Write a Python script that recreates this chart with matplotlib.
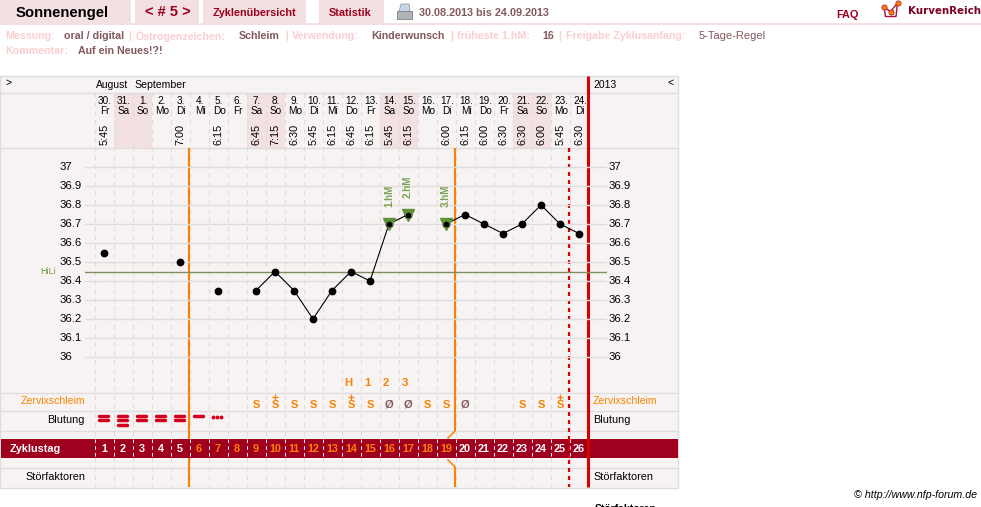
import matplotlib
matplotlib.use('Agg')
import matplotlib.pyplot as plt
from matplotlib.patches import Rectangle, Polygon

plt.rcParams['font.family'] = ['Liberation Sans', 'DejaVu Sans']

# data
dates = ['30.', '31.', '1.', '2.', '3.', '4.', '5.', '6.', '7.', '8.', '9.', '10.', '11.',
         '12.', '13.', '14.', '15.', '16.', '17.', '18.', '19.', '20.', '21.', '22.', '23.', '24.']
weekdays = ['Fr', 'Sa', 'So', 'Mo', 'Di', 'Mi', 'Do', 'Fr', 'Sa', 'So', 'Mo', 'Di', 'Mi',
            'Do', 'Fr', 'Sa', 'So', 'Mo', 'Di', 'Mi', 'Do', 'Fr', 'Sa', 'So', 'Mo', 'Di']
times = ['5:45', '', '', '', '7:00', '', '6:15', '', '6:45', '7:15', '6:30', '5:45', '6:15',
         '6:45', '6:15', '5:45', '6:15', '', '6:00', '6:15', '6:00', '6:30', '6:30', '6:00', '5:45', '6:30']
temps = [36.55, None, None, None, 36.5, None, 36.35, None, 36.35, 36.45, 36.35, 36.2, 36.35,
         36.45, 36.4, 36.7, 36.75, None, 36.7, 36.75, 36.7, 36.65, 36.7, 36.8, 36.7, 36.65]
temp_ticks = [37, 36.9, 36.8, 36.7, 36.6, 36.5, 36.4, 36.3, 36.2, 36.1, 36]
temp_labels = ['37', '36.9', '36.8', '36.7', '36.6', '36.5', '36.4', '36.3', '36.2', '36.1', '36']
hili = 36.45
hm_days = [16, 17, 19]
hm_labels = ['1.hM', '2.hM', '3.hM']
schleim = {9: 'S', 10: 'S+', 11: 'S', 12: 'S', 13: 'S', 14: 'S+', 15: 'S', 16: 'Ø', 17: 'Ø',
           18: 'S', 19: 'S', 20: 'Ø', 23: 'S', 24: 'S', 25: 'S+'}
peak_days = [14, 15, 16, 17]
peak_labels = ['H', '1', '2', '3']
blutung = [2, 3, 2, 2, 2, 1]
white_days = [1, 2, 3, 4, 5, 20, 21, 22, 23, 24, 25, 26]

ORANGE = '#f98300'
RED = '#d90000'
DARK = '#9e001e'
PINK = '#f3e0e2'
BG = '#f8f3f3'
GRID = '#dedcdc'
FAINT = '#f9cfd0'
VALUE = '#83585e'


def day_x(d):
    return 104 + 19 * (d - 1)


fig = plt.figure(figsize=(9.81, 5.07), dpi=100)
ax = fig.add_axes([0, 0, 1, 1])
ax.set_xlim(0, 981)
ax.set_ylim(507, 0)
ax.axis('off')

# page header
for x0, x1 in [(0, 131), (135, 199), (203, 306), (319, 384)]:
    ax.add_patch(Rectangle((x0, 0), x1 - x0, 23, color=PINK, lw=0))
ax.add_patch(Rectangle((0, 23), 981, 2, color=PINK, lw=0))
ax.text(16, 13, 'Sonnenengel', fontsize=10.7, fontweight='bold', color='black', va='center')
ax.text(145, 12.5, '< # 5 >', fontsize=10.5, fontweight='bold', color=DARK, va='center')
ax.text(213, 12.5, 'Zyklenübersicht', fontsize=7.8, fontweight='bold', color=DARK, va='center')
ax.text(329, 12.5, 'Statistik', fontsize=7.8, fontweight='bold', color=DARK, va='center')
ax.text(419, 12.5, '30.08.2013 bis 24.09.2013', fontsize=7.8, fontweight='bold', color=VALUE, va='center')
ax.text(836, 14.5, 'FAQ', fontsize=7.8, fontweight='bold', color=DARK, va='center')
ax.text(908, 10.5, 'KurvenReich', fontsize=7.4, fontweight='bold', color='#7d0020', va='center',
        family=['DejaVu Sans'])

# printer icon
ax.add_patch(Polygon([(399, 12), (401, 4), (409, 4), (410, 12)], fc='#c6d6e6', ec='#8d9aa6', lw=0.6))
ax.add_patch(Rectangle((397, 11), 15, 8, fc='#b0b4b8', ec='#7c8084', lw=0.6))
# logo
ax.plot([883.5, 890.5, 897.5], [7, 11.5, 3], color='#a8123a', lw=1)
ax.plot([884, 885.5, 896, 897.5], [7, 16.5, 16.5, 3], color='#a8123a', lw=1)
ax.plot([883.5, 890.5, 897.5], [7, 11.5, 3], ls='', marker='o', ms=3.8, mfc=ORANGE, mec='#a8123a', mew=0.5)

# info lines
info = [(5, 36, 'Messung:', FAINT), (64, 36, 'oral / digital', VALUE), (128, 36, '|', FAINT),
        (136, 36, 'Östrogenzeichen:', FAINT), (239, 36, 'Schleim', VALUE), (285, 36, '|', FAINT),
        (292, 36, 'Verwendung:', FAINT), (371, 36, 'Kinderwunsch', VALUE), (450, 36, '|', FAINT),
        (457, 36, 'früheste 1.hM:', FAINT), (542, 36, '16', VALUE), (558, 36, '|', FAINT),
        (566, 36, 'Freigabe Zyklusanfang:', FAINT), (5, 51, 'Kommentar:', FAINT),
        (78, 51, 'Auf ein Neues!?!', VALUE)]
for x, y, s, c in info:
    ax.text(x, y, s, fontsize=7.7, fontweight='bold', color=c, va='center')
ax.text(699, 36, '5-Tage-Regel', fontsize=8, color=VALUE, va='center')

# table background
ax.add_patch(Rectangle((0, 76), 678, 412, fc=BG, ec=GRID, lw=1))
for y in [93, 148, 392.5, 411, 430.5, 468]:
    ax.plot([0, 678], [y, y], color=GRID, lw=1)

# weekend shading
for i, wd in enumerate(weekdays):
    if wd in ('Sa', 'So'):
        ax.add_patch(Rectangle((day_x(i + 1) - 9.5, 93), 19, 55, color=PINK, lw=0))

# dashed columns
for d in range(1, 27):
    ax.plot([day_x(d) - 9.5] * 2, [93, 487], color=GRID, lw=0.8, dashes=(4, 4))

# date header
ax.text(5, 83, '>', fontsize=7.5, va='center')
ax.text(96, 85, 'August', fontsize=7.5, va='center')
ax.text(134, 85, 'September', fontsize=7.6, va='center')
ax.text(593, 85, '2013', fontsize=7.5, va='center')
ax.text(668, 83, '<', fontsize=7.5, va='center')
for i in range(26):
    x = day_x(i + 1) + 1
    ax.text(x, 101, dates[i], fontsize=7.2, ha='center', va='center')
    ax.text(x, 111, weekdays[i], fontsize=7.2, ha='center', va='center')
    if times[i]:
        ax.text(x - 0.5, 134.5, times[i], fontsize=7.8, ha='center', va='center', rotation=90)

# temperature chart, own axes
tx = fig.add_axes([85 / 981, 1 - 392 / 507, (607 - 85) / 981, (392 - 148) / 507])
tx.set_xlim((85 - 104) / 19 + 1, (607 - 104) / 19 + 1)
tx.set_ylim(37 - (392 - 167) / 190, 37 + (167 - 148) / 190)
tx.axis('off')
tx.patch.set_alpha(0)
for t in temp_ticks:
    tx.axhline(t, color=GRID, lw=1, zorder=1)
tx.axhline(hili, color='#7d8f5f', lw=1, zorder=2)
for t, s in zip(temp_ticks, temp_labels):
    ax.text(60, 357 - (t - 36) * 190, s, fontsize=8.2, va='center')
    ax.text(609, 357 - (t - 36) * 190, s, fontsize=8.2, va='center')
ax.text(40, 271, 'HiLi', fontsize=6.5, color='#6f9a45', va='center')

# vertical lines over the table
ax.plot([189, 189], [148, 487], color=ORANGE, lw=1.5, zorder=4, solid_capstyle='butt')
ax.plot([455, 455], [148, 431], color=ORANGE, lw=1.5, zorder=4, solid_capstyle='butt')
ax.plot([448, 455], [438, 431], color=ORANGE, lw=1.1, zorder=4)
ax.plot([448, 455], [460, 467], color=ORANGE, lw=1.1, zorder=4)
ax.plot([455, 455], [467, 487], color=ORANGE, lw=1.5, zorder=4, solid_capstyle='butt')
ax.plot([569, 569], [148, 487], color=RED, lw=1.6, dashes=(1.8, 1.8), zorder=4)
ax.plot([588, 588], [76, 487], color=RED, lw=2.2, zorder=6, solid_capstyle='butt')

# temperature curve, broken at the missing days
seg_x, seg_y = [], []
for d, t in enumerate(temps, start=1):
    if t is None:
        if seg_x:
            tx.plot(seg_x, seg_y, color='black', lw=0.8, marker='o', ms=4.6, zorder=6)
        seg_x, seg_y = [], []
    else:
        seg_x.append(d)
        seg_y.append(t)
tx.plot(seg_x, seg_y, color='black', lw=0.8, marker='o', ms=4.6, zorder=6)

# hM markers
for d, s in zip(hm_days, hm_labels):
    t = temps[d - 1]
    tx.plot([d], [t], marker='v', ms=8, color='#5f9136', ls='', zorder=8)
    tx.plot([d], [t], marker='o', ms=3, color='black', ls='', zorder=9)
    tx.annotate(s, (d, t), xytext=(0, 12), textcoords='offset points', rotation=90, ha='center',
                va='bottom', fontsize=7, fontweight='bold', color='#6a9a40', alpha=0.9)

# row titles
ax.text(85, 401, 'Zervixschleim', fontsize=7.6, color=ORANGE, ha='right', va='center')
ax.text(593, 401, 'Zervixschleim', fontsize=7.6, color=ORANGE, va='center')
ax.text(85, 420, 'Blutung', fontsize=7.8, ha='right', va='center')
ax.text(593, 420, 'Blutung', fontsize=7.8, va='center')
ax.text(85, 477, 'Störfaktoren', fontsize=7.8, ha='right', va='center')
ax.text(593, 477, 'Störfaktoren', fontsize=7.8, va='center')

# peak row
for d, s in zip(peak_days, peak_labels):
    ax.text(day_x(d) - 3, 383, s, fontsize=8.2, color=ORANGE, fontweight='bold', ha='center', va='center')

# mucus row
for d, s in schleim.items():
    c = VALUE if s == 'Ø' else ORANGE
    ax.text(day_x(d), 404.5, s[0], fontsize=8, color=c, fontweight='bold', ha='center', va='center')
    if s.endswith('+'):
        ax.plot([day_x(d)], [396.5], marker='+', ms=4.2, mew=0.9, color=c, ls='')

# bleeding row
for i, n in enumerate(blutung):
    x = day_x(i + 1) - 0.5
    for k in range(n):
        y = 416 + k * 4.4
        ax.plot([x - 4.5, x + 4.5], [y, y], color='#d4001e', lw=2.5, solid_capstyle='round', zorder=5)
ax.plot([day_x(7) - 5, day_x(7) - 1, day_x(7) + 3], [416.5] * 3, ls='', marker='o', ms=1.8,
        color='#d4001e', zorder=5)

# cycle day band
ax.add_patch(Rectangle((1, 439), 677, 19, color=DARK, lw=0, zorder=5))
ax.text(10, 449, 'Zyklustag', fontsize=7.8, fontweight='bold', color='white', va='center', zorder=7)
for d in range(1, 27):
    c = 'white' if d in white_days else ORANGE
    ax.text(day_x(d), 449, str(d), fontsize=7.8, fontweight='bold', color=c, ha='center', va='center', zorder=7)
    ax.plot([day_x(d) - 9.5] * 2, [439, 458], color='white', lw=0.7, dashes=(3.5, 3.5), zorder=6)
ax.plot([588, 588], [439, 458], color=RED, lw=2.2, zorder=8, solid_capstyle='butt')
ax.plot([569, 569], [439, 458], color=RED, lw=1.6, dashes=(1.8, 1.8), zorder=6)

# footer
ax.text(977, 495, '© http://www.nfp-forum.de', fontsize=7.7, style='italic', ha='right', va='center')
ax.text(595, 509, 'Störfaktoren', fontsize=7.5, fontweight='bold', va='center', clip_on=True)

fig.savefig('out.png', dpi=100)
